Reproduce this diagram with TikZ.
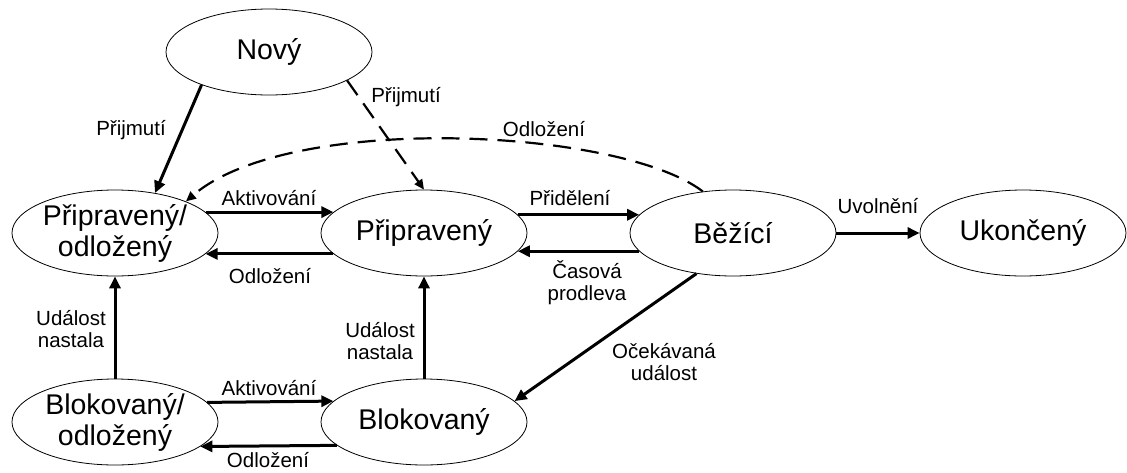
\documentclass[tikz,border=0pt]{standalone}
\usepackage{fontspec}
\setmainfont{Liberation Sans}
\usetikzlibrary{shapes.geometric,arrows.meta}
\begin{document}
\begin{tikzpicture}[x=1pt,y=-1pt,
  state/.style={draw, ellipse, line width=0.8pt, minimum width=206pt,
    minimum height=86pt, inner sep=0pt, align=center,
    font=\fontsize{28.5}{31}\selectfont},
  arr/.style={line width=3pt, -{Triangle[length=12pt,width=11pt]}},
  darr/.style={line width=2.2pt, dash pattern=on 18pt off 10pt,
    -{Triangle[length=10pt,width=9pt]}},
  lbl/.style={font=\fontsize{20.5}{22}\selectfont, align=center, inner sep=0pt}]
\useasboundingbox (0,0) rectangle (1127,472);

% states
\node[state] (nov) at (269,52)  {Nový};
\node[state] (po)  at (115,233) {Připravený/\\odložený};
\node[state] (pri) at (424,233) {Připravený};
\node[state] (bez) at (733,233) {Běžící};
\node[state] (uko) at (1023,233) {Ukončený};
\node[state] (bo)  at (115,422) {Blokovaný/\\odložený};
\node[state] (blo) at (424,422) {Blokovaný};

% transitions
\draw[arr]  (nov.206.6) -- (po.45);
\draw[darr] (nov.340.7) -- (pri.north);
\draw[darr] (bez.126) .. controls (620,128) and (290,112) .. (po.24);
\draw[arr]  (po.13) -- (pri.167);
\draw[arr]  (pri.193) -- (po.347);
\draw[arr]  (pri.11) -- (bez.169);
\draw[arr]  (bez.191) -- (pri.349);
\draw[arr]  (bez.east) -- (uko.west);
\draw[arr]  (bez.228.8) -- (blo.13.6);
\draw[arr]  (bo.north) -- (po.south);
\draw[arr]  (blo.north) -- (pri.south);
\draw[arr]  (bo.12.4) -- (blo.167.6);
\draw[arr]  (blo.195.7) -- (bo.344.3);

% labels
\node[lbl] (l1)  at (131,130) {Přijmutí};
\node[lbl] (l2)  at (406,97)  {Přijmutí};
\node[lbl] (l3)  at (544,129) {Odložení};
\node[lbl] (l4)  at (269,198) {Aktivování};
\node[lbl] (l5)  at (270,276) {Odložení};
\node[lbl] (l6)  at (570,198) {Přidělení};
\node[lbl] (l7)  at (587,283) {Časová\\prodleva};
\node[lbl] (l8)  at (878,206) {Uvolnění};
\node[lbl] (l9)  at (664,362) {Očekávaná\\událost};
\node[lbl] (l10) at (71,329)  {Událost\\nastala};
\node[lbl] (l11) at (380,341) {Událost\\nastala};
\node[lbl] (l12) at (269,388) {Aktivování};
\node[lbl] (l13) at (268,460) {Odložení};
\end{tikzpicture}
\end{document}
